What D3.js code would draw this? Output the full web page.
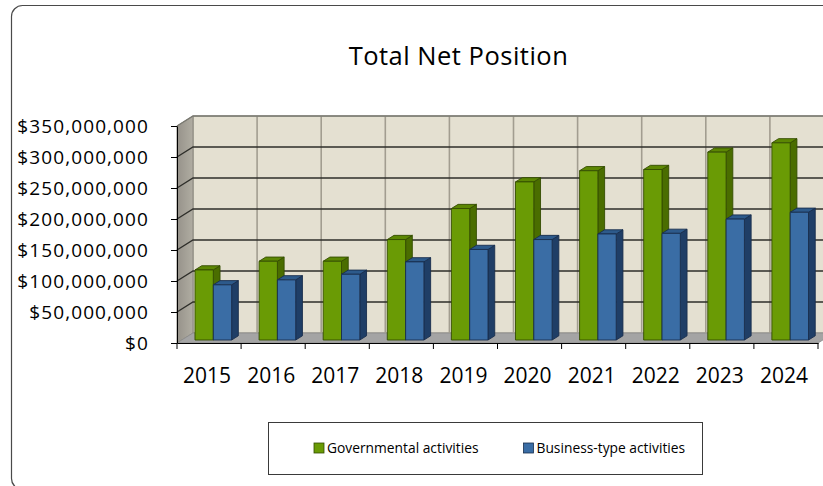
<!DOCTYPE html>
<html>
<head>
<meta charset="utf-8">
<script src="https://cdn.jsdelivr.net/npm/d3@7"></script>
<style>
  html, body { margin: 0; padding: 0; background: #fff; }
  svg { display: block; font-family: "Open Sans", sans-serif; }
</style>
</head>
<body>
<script>
// Fiscal years on the category axis
const years = ["2015", "2016", "2017", "2018", "2019", "2020", "2021", "2022", "2023", "2024"];
// Net position by activity type, in dollars
const governmental = [113000000, 127000000, 127000000, 162000000, 212000000, 255000000, 273000000, 275000000, 303000000, 318000000];
const business     = [89000000, 97000000, 106000000, 126000000, 146000000, 162000000, 171000000, 172000000, 195000000, 206000000];
// Value axis ticks
const yTicks = [0, 50000000, 100000000, 150000000, 200000000, 250000000, 300000000, 350000000];
const seriesNames = ["Governmental activities", "Business-type activities"];

const W = 823, H = 486;
const svg = d3.select("body").append("svg").attr("width", W).attr("height", H);

// Outer chart frame
svg.append("rect")
  .attr("x", 11.5).attr("y", 5.5).attr("width", 850).attr("height", 484)
  .attr("rx", 11).attr("ry", 11)
  .attr("fill", "#fff").attr("stroke", "#4a4a4a").attr("stroke-width", 1.2);

// Front plane scales and oblique depth offset
const X0 = 177, X1 = 818, DX = 16, DY = -10;
const x = d3.scaleBand().domain(years).range([X0, X1]).padding(0);
const y = d3.scaleLinear().domain([0, 350000000]).range([343, 126]);
const xs = d3.scaleBand().domain([0, 1]).range([0, x.bandwidth()])
  .paddingInner(0).paddingOuter(0.75).align(0.48);
const P = (xv, v, d) => [xv + d * DX, y(v) + d * DY];
const poly = pts => "M" + pts.map(p => p.join(",")).join("L") + "Z";
const vMax = yTicks[yTicks.length - 1];

// Back wall
svg.append("path")
  .attr("d", poly([P(X0, 0, 1), P(X1, 0, 1), P(X1, vMax, 1), P(X0, vMax, 1)]))
  .attr("fill", "#e4e0d1").attr("stroke", "#8a877e").attr("stroke-width", 1);

// Side wall
const sideGrad = svg.append("defs").append("linearGradient")
  .attr("id", "sideWall").attr("x1", 0).attr("x2", 1).attr("y1", 0).attr("y2", 0);
sideGrad.append("stop").attr("offset", "0%").attr("stop-color", "#96928a");
sideGrad.append("stop").attr("offset", "100%").attr("stop-color", "#b0ada2");
svg.append("path")
  .attr("d", poly([P(X0, 0, 0), P(X0, 0, 1), P(X0, vMax, 1), P(X0, vMax, 0)]))
  .attr("fill", "url(#sideWall)").attr("stroke", "#8a877e").attr("stroke-width", 1);

// Floor
svg.append("path")
  .attr("d", poly([P(X0, 0, 0), P(X1, 0, 0), P(X1, 0, 1), P(X0, 0, 1)]))
  .attr("fill", "#a4a4a4").attr("stroke", "#8c8c8c").attr("stroke-width", 0.8);

// Vertical gridlines on the back wall at category boundaries
const bounds = years.map(yr => x(yr)).concat([X1]);
svg.append("g").selectAll("line").data(bounds.slice(1, -1)).join("line")
  .attr("x1", d => P(d, 0, 1)[0]).attr("x2", d => P(d, vMax, 1)[0])
  .attr("y1", d => P(d, 0, 1)[1]).attr("y2", d => P(d, vMax, 1)[1])
  .attr("stroke", "#a29d90").attr("stroke-width", 1.6);

// Horizontal gridlines across side wall and back wall
svg.append("g").selectAll("path").data(yTicks.slice(1)).join("path")
  .attr("d", v => "M" + [P(X0, v, 0), P(X0, v, 1), P(X1, v, 1)].map(p => p.join(",")).join("L"))
  .attr("fill", "none")
  .attr("stroke", v => v === vMax ? "#7a7a72" : "#2e2e2a")
  .attr("stroke-width", 1.3);

// Bars
const dF = 0.3, dB = 0.72;
const palette = [
  { front: "#6a9b05", side: "#4a6d00", top: "#5c8703", edge: "#344d00" },
  { front: "#3a6da5", side: "#1f3e66", top: "#2d5a8b", edge: "#182e4d" }
];
const rows = [];
years.forEach((yr, i) => {
  [governmental[i], business[i]].forEach((v, s) => rows.push({ yr, s, v }));
});
const bars = svg.append("g").selectAll("g").data(rows).join("g");
bars.each(function (r) {
  const g = d3.select(this);
  const xl = x(r.yr) + xs(r.s), xr = xl + xs.bandwidth();
  const c = palette[r.s];
  g.append("path")
    .attr("d", poly([P(xr, 0, dF), P(xr, 0, dB), P(xr, r.v, dB), P(xr, r.v, dF)]))
    .attr("fill", c.side).attr("stroke", c.edge).attr("stroke-width", 0.9);
  g.append("path")
    .attr("d", poly([P(xl, r.v, dF), P(xr, r.v, dF), P(xr, r.v, dB), P(xl, r.v, dB)]))
    .attr("fill", c.top).attr("stroke", c.edge).attr("stroke-width", 0.9);
  g.append("path")
    .attr("d", poly([P(xl, 0, dF), P(xr, 0, dF), P(xr, r.v, dF), P(xl, r.v, dF)]))
    .attr("fill", c.front).attr("stroke", c.edge).attr("stroke-width", 0.9);
});

// Value axis
const yAxis = svg.append("g").attr("transform", `translate(${X0},0)`)
  .call(d3.axisLeft(y).tickValues(yTicks).tickFormat(d3.format("$,"))
    .tickSize(6).tickSizeOuter(0).tickPadding(22));
yAxis.select(".domain").attr("stroke", "#000");
yAxis.selectAll(".tick line").attr("stroke", "#000");
yAxis.selectAll("text")
  .attr("fill", "#000").style("font-family", "'Open Sans', sans-serif")
  .style("font-size", "19px").style("letter-spacing", "1.1px");

// Category axis
const xAxis = svg.append("g").attr("transform", `translate(0,${y(0)})`)
  .call(d3.axisBottom(x).tickSize(0).tickSizeOuter(0).tickPadding(25));
xAxis.select(".domain").attr("stroke", "#000");
xAxis.selectAll("text")
  .attr("fill", "#000").attr("dx", -2)
  .style("font-family", "'Open Sans', sans-serif").style("font-size", "21px");
xAxis.selectAll(".bound").data(bounds).join("line").attr("class", "bound")
  .attr("x1", d => d).attr("x2", d => d).attr("y1", 0).attr("y2", 6)
  .attr("stroke", "#000");

// Title
svg.append("text")
  .attr("x", 458.5).attr("y", 65).attr("text-anchor", "middle")
  .style("font-size", "25.5px").style("letter-spacing", "0.5px")
  .attr("fill", "#000").text("Total Net Position");

// Legend
const lg = svg.append("g");
lg.append("rect")
  .attr("x", 268.5).attr("y", 422.5).attr("width", 434).attr("height", 52)
  .attr("fill", "#fff").attr("stroke", "#3a3a3a").attr("stroke-width", 1);
const legendX = [314, 523.5];
seriesNames.forEach((name, s) => {
  lg.append("rect")
    .attr("x", legendX[s]).attr("y", 443).attr("width", 10).attr("height", 10)
    .attr("fill", palette[s].front).attr("stroke", palette[s].edge).attr("stroke-width", 0.8);
  lg.append("text")
    .attr("x", legendX[s] + 13).attr("y", 453)
    .style("font-size", "13.8px").attr("fill", "#000").text(name);
});
</script>
</body>
</html>
